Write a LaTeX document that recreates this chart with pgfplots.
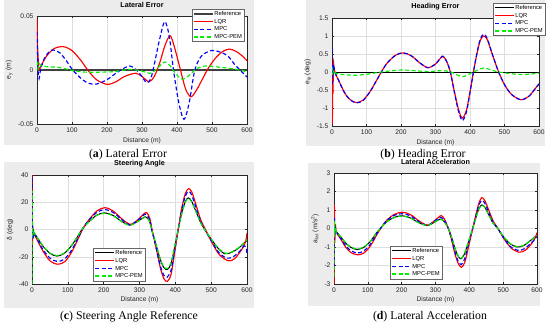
\documentclass[border=0pt]{standalone}
\usepackage{fontspec}
\setmainfont{Liberation Sans}
\newfontfamily\capfont{Liberation Serif}
\usepackage{pgfplots}
\pgfplotsset{compat=1.18}
\definecolor{figgray}{RGB}{236,236,236}
\definecolor{axgray}{RGB}{38,38,38}
\definecolor{gridgray}{RGB}{222,222,222}
\definecolor{mred}{RGB}{255,0,0}
\definecolor{mblue}{RGB}{0,0,255}
\definecolor{mgreen}{RGB}{0,240,0}
\pgfplotsset{
  mstyle/.style={
    scale only axis, anchor=south west,
    axis background/.style={fill=white},
    scaled y ticks=false, scaled x ticks=false,
    xmin=0, xmax=600, xtick={0,100,...,600},
    xticklabels={0,100,200,300,400,500,600},
    grid=major, major grid style={gridgray, line width=0.4pt},
    axis line style={axgray, line width=0.5pt},
    tick style={axgray, line width=0.4pt},
    tick align=inside, major tick length=2pt,
    ticklabel style={font=\fontsize{6.7}{7}\selectfont, text=axgray},
    label style={font=\fontsize{6.7}{7}\selectfont, text=axgray},
    title style={font=\fontsize{7.2}{8}\selectfont\bfseries, at={(0.5,1.045)}, anchor=center},
    xlabel={Distance (m)},
    legend cell align=left,
    legend style={draw=black!60, line width=0.4pt, fill=white,
      font=\fontsize{5.8}{6.5}\selectfont, inner xsep=1.2pt, inner ysep=1pt,
      nodes={inner sep=0.8pt, text height=4.6pt, text depth=1.2pt},
      row sep=0.3pt},
    legend image code/.code={\draw[#1] (0pt,0pt) -- (19pt,0pt);},
  },
  refl/.style={black, line width=1pt, no markers},
  lqr/.style={mred, line width=1.15pt, no markers, smooth},
  mpc/.style={mblue, line width=1.15pt, dash pattern=on 4pt off 2.5pt, no markers, smooth},
  pem/.style={mgreen, line width=1.15pt, dash pattern=on 4pt off 2.5pt, no markers, smooth},
}
\begin{document}
\begin{tikzpicture}
\useasboundingbox (0pt,0pt) rectangle (550pt,327pt);
\fill[white] (0pt,0pt) rectangle (550pt,327pt);
\fill[figgray] (4pt,182pt) rectangle (254pt,327pt);
\fill[figgray] (306pt,181pt) rectangle (545pt,327pt);
\fill[figgray] (4pt,19pt) rectangle (254pt,165pt);
\fill[figgray] (308pt,21pt) rectangle (540pt,164pt);

% (a) Lateral Error
\begin{axis}[mstyle, at={(37pt,203pt)}, width=210pt, height=108pt,
  ymin=-0.05, ymax=0.05, ytick={-0.05,0,0.05}, yticklabels={-0.05,0,0.05},
  title={Lateral Error},
  ylabel={e\textsubscript{y} (m)},
  ylabel style={at={(axis description cs:-0.133,0.5)}, anchor=center},
  xlabel style={at={(axis description cs:0.5,-0.157)}, anchor=center},
  legend style={at={(0.986,1.065)}, anchor=north east}]
\addplot[refl, black!75, line width=1.5pt] coordinates {(0,0) (600,0)};
\addplot[lqr] coordinates {(0,0.047) (2,0.02) (5,0.002) (8,0.001) (15,0.006) (30,0.014) (50,0.020) (75,0.0216) (100,0.018) (125,0.009) (145,0.0) (170,-0.009) (200,-0.0133) (225,-0.011) (250,-0.006) (282,-0.003) (300,-0.006) (320,-0.0108) (335,-0.006) (350,0.006) (365,0.022) (380,0.0318) (392,0.022) (410,0.0) (425,-0.018) (440,-0.0248) (455,-0.019) (475,-0.007) (490,0.002) (510,0.011) (530,0.017) (550,0.0194) (570,0.017) (590,0.012) (600,0.0085)};
\addplot[mpc] coordinates {(0,0.035) (3,0.0) (6,-0.008) (10,0.0) (20,0.010) (35,0.017) (47,0.0185) (65,0.016) (85,0.008) (102,0.0) (130,-0.009) (150,-0.0125) (170,-0.013) (200,-0.009) (230,-0.002) (265,0.0037) (290,-0.002) (313,-0.0117) (325,-0.008) (335,0.005) (350,0.028) (365,0.0448) (378,0.031) (390,0.0) (405,-0.030) (420,-0.0457) (435,-0.030) (451,0.0) (470,0.013) (498,0.018) (520,0.017) (545,0.013) (565,0.005) (580,0.0) (600,-0.0065)};
\addplot[pem] coordinates {(0,0.008) (3,0.001) (6,0.006) (12,0.004) (30,0.003) (60,0.0025) (85,0.0008) (110,-0.001) (140,-0.002) (180,-0.002) (220,-0.0015) (265,0.0006) (300,-0.001) (325,-0.003) (345,0.002) (365,0.0075) (380,0.004) (395,-0.003) (415,-0.0085) (435,-0.005) (455,0.001) (480,0.0037) (510,0.003) (550,0.0015) (580,0.0) (600,-0.0018)};
\legend{Reference,LQR,MPC,MPC-PEM}
\end{axis}

% (b) Heading Error
\begin{axis}[mstyle, at={(332pt,201pt)}, width=207pt, height=108pt,
  ymin=-1.5, ymax=1.5, ytick={-1.5,-1,...,1.5}, yticklabels={-1.5,-1,-0.5,0,0.5,1,1.5},
  title={Heading Error},
  ylabel={e\textsubscript{ψ} (deg)},
  ylabel style={at={(axis description cs:-0.116,0.5)}, anchor=center},
  xlabel style={at={(axis description cs:0.5,-0.157)}, anchor=center},
  legend style={at={(1.029,1.139)}, anchor=north east}]
\addplot[refl] coordinates {(0,0) (600,0)};
\addplot[lqr] coordinates {(0,0.25) (1,-1.45) (2,0.2) (3,-0.6) (4,0.25) (6,0.1) (10,-0.05) (20,-0.25) (35,-0.55) (50,-0.75) (70,-0.85) (90,-0.78) (110,-0.55) (130,-0.22) (143,0.0) (160,0.25) (185,0.47) (207,0.53) (230,0.45) (255,0.25) (278,0.12) (300,0.22) (320,0.43) (332,0.3) (343,0.0) (355,-0.55) (367,-1.05) (378,-1.28) (390,-1.05) (400,-0.55) (410,0.0) (420,0.5) (430,0.88) (440,1.0) (450,0.9) (465,0.48) (483,0.0) (500,-0.35) (520,-0.62) (547,-0.77) (570,-0.68) (590,-0.45) (600,-0.33)};
\addplot[mpc] coordinates {(0,0.65) (1,-0.3) (2,0.2) (3,-0.1) (5,0.15) (8,0.02) (10,-0.05) (20,-0.25) (35,-0.55) (50,-0.75) (70,-0.86) (90,-0.79) (110,-0.55) (130,-0.22) (143,0.0) (160,0.25) (185,0.47) (207,0.53) (230,0.45) (255,0.25) (278,0.12) (300,0.22) (320,0.44) (332,0.3) (343,0.0) (355,-0.58) (367,-1.1) (378,-1.35) (390,-1.1) (400,-0.57) (410,0.0) (420,0.52) (430,0.92) (440,1.05) (450,0.93) (465,0.49) (483,0.0) (500,-0.35) (520,-0.62) (547,-0.77) (570,-0.68) (590,-0.45) (600,-0.33)};
\addplot[pem] coordinates {(0,0.15) (2,-0.05) (5,0.05) (10,-0.03) (30,-0.07) (70,-0.09) (110,-0.05) (143,0.0) (200,0.055) (250,0.03) (280,0.01) (320,0.04) (345,0.0) (378,-0.13) (410,0.0) (440,0.11) (483,0.0) (550,-0.07) (600,-0.03)};
\legend{Reference,LQR,MPC,MPC-PEM}
\end{axis}

% (c) Steering Angle
\begin{axis}[mstyle, at={(32pt,43pt)}, width=215pt, height=109pt,
  ymin=-40, ymax=40, ytick={-40,-20,...,40}, yticklabels={-40,-20,0,20,40},
  title={Steering Angle},
  ylabel={δ (deg)},
  ylabel style={at={(axis description cs:-0.102,0.5)}, anchor=center},
  xlabel style={at={(axis description cs:0.5,-0.147)}, anchor=center},
  legend style={at={(0.284,0.33)}, anchor=north west}]
\addplot[refl, smooth] coordinates {(2,0) (5,-2) (15,-6) (30,-12) (50,-17.5) (70,-19.5) (90,-17.5) (110,-12) (130,-4) (139,0) (155,4.7) (180,10.4) (202,12.2) (225,10.5) (250,6) (273,3.2) (295,6) (317,9.3) (328,6) (334,0) (345,-10) (358,-22) (368,-28) (378,-29.3) (388,-25) (398,-13) (408,0) (418,12) (428,20.5) (436,23.2) (445,21) (458,13) (470,5.5) (482,0) (500,-7) (520,-14) (538,-17.8) (555,-17) (575,-14) (590,-10.5) (600,-8)};
\addplot[lqr] coordinates {(0,40) (1,-10) (2,3) (3,-6) (5,-3) (15,-8) (30,-15.5) (50,-23) (72,-25.5) (92,-23.5) (112,-16) (132,-5) (141,0) (157,6.5) (182,13.8) (204,16) (227,13.5) (252,7.5) (275,3.8) (297,7.5) (318,12.5) (329,8) (335,0) (346,-13) (359,-29) (369,-36.5) (378,-38) (388,-33) (398,-17) (408,0) (418,16) (428,26.5) (437,30) (446,27.5) (459,17) (471,7) (484,0) (502,-9.5) (523,-18.5) (548,-23) (565,-21.5) (582,-16) (592,-11.5) (597,-8) (600,-2.5)};
\addplot[mpc] coordinates {(0,38) (1,-4) (2,2) (3,-6) (6,-3) (15,-7.2) (30,-14.4) (50,-21) (71,-23.5) (91,-21.6) (111,-15) (131,-4.8) (140,0) (156,6) (181,12.6) (203,14.6) (226,12.6) (251,7.2) (274,3.4) (296,7) (317,11.3) (328,7.2) (334,0) (345,-12) (358,-26.5) (368,-33.6) (377,-35) (388,-30) (398,-15.6) (408,0) (418,14.4) (428,24.6) (437,28) (446,25.2) (458,15.6) (470,6.6) (482,0) (501,-8.4) (521,-16.8) (543,-21) (560,-20.2) (578,-16.5) (592,-12) (598,-14) (600,-18.5)};
\addplot[pem] coordinates {(0,-40) (0.6,28) (1.5,-3) (3,-1) (6,-2.5) (15,-6) (30,-11.8) (50,-17.2) (70,-19.1) (90,-17.2) (110,-11.8) (130,-3.9) (139,0) (155,4.6) (180,10.2) (202,11.9) (225,10.2) (250,5.8) (273,3.1) (295,5.8) (317,9.1) (328,5.9) (334,0) (345,-9.8) (358,-21.5) (368,-27.4) (378,-28.6) (388,-24.4) (398,-12.7) (408,0) (418,11.7) (428,20) (436,22.6) (445,20.5) (458,12.7) (470,5.3) (482,0) (500,-6.9) (520,-13.8) (540,-17.4) (556,-16.7) (575,-13.7) (590,-10.3) (600,-7.5)};
\legend{Reference,LQR,MPC,MPC-PEM}
\end{axis}

% (d) Lateral Acceleration
\begin{axis}[mstyle, at={(334pt,43pt)}, width=203pt, height=111pt,
  ymin=-3, ymax=3, ytick={-3,-2,...,3}, yticklabels={-3,-2,-1,0,1,2,3},
  title={Lateral Acceleration},
  ylabel={a\textsubscript{lat} (m/s\textsuperscript{2})},
  ylabel style={at={(axis description cs:-0.094,0.5)}, anchor=center},
  xlabel style={at={(axis description cs:0.5,-0.144)}, anchor=center},
  legend style={at={(0.276,0.342)}, anchor=north west}]
\addplot[refl, smooth] coordinates {(3,-0.05) (8,-0.2) (20,-0.45) (35,-0.8) (50,-1.02) (67,-1.13) (85,-1.05) (105,-0.75) (125,-0.25) (137,0) (155,0.35) (178,0.6) (201,0.69) (225,0.58) (250,0.32) (276,0.16) (296,0.33) (315,0.51) (327,0.35) (338,0) (348,-0.5) (358,-1.1) (367,-1.5) (375,-1.64) (385,-1.4) (397,-0.75) (410,0) (420,0.62) (429,1.1) (437,1.27) (446,1.15) (458,0.72) (470,0.3) (484,0) (500,-0.42) (520,-0.82) (541,-1.0) (560,-0.93) (580,-0.66) (600,-0.36)};
\addplot[lqr] coordinates {(0,-3) (1,1.25) (2.5,-0.6) (4,0.2) (6,-0.1) (10,-0.3) (20,-0.58) (35,-1.02) (50,-1.3) (69,-1.42) (87,-1.34) (107,-0.96) (127,-0.32) (138,0) (156,0.45) (179,0.77) (203,0.88) (227,0.74) (252,0.4) (277,0.18) (297,0.42) (317,0.7) (328,0.45) (338,0) (348,-0.64) (358,-1.41) (368,-1.92) (377,-2.1) (387,-1.8) (398,-0.96) (410,0) (420,0.79) (429,1.41) (437,1.67) (446,1.5) (459,0.92) (471,0.38) (485,0) (502,-0.54) (523,-1.05) (547,-1.28) (565,-1.18) (583,-0.84) (595,-0.5) (600,-0.22)};
\addplot[mpc] coordinates {(0,-2.1) (1,0.6) (2.5,-0.3) (4,0.05) (7,-0.15) (10,-0.28) (20,-0.53) (35,-0.94) (50,-1.2) (68,-1.32) (86,-1.24) (106,-0.89) (126,-0.3) (137,0) (155,0.41) (178,0.71) (202,0.8) (226,0.68) (251,0.37) (276,0.17) (296,0.39) (316,0.6) (327,0.41) (338,0) (348,-0.59) (358,-1.3) (367,-1.77) (376,-1.95) (386,-1.65) (397,-0.88) (410,0) (420,0.73) (429,1.3) (437,1.52) (446,1.36) (458,0.85) (470,0.35) (484,0) (501,-0.5) (521,-0.97) (544,-1.18) (562,-1.1) (582,-0.8) (600,-0.45)};
\addplot[pem] coordinates {(0,-2.6) (0.8,0.35) (2,-0.25) (4,-0.05) (8,-0.2) (20,-0.44) (35,-0.78) (50,-1.0) (67,-1.1) (85,-1.03) (105,-0.74) (125,-0.25) (137,0) (155,0.34) (178,0.59) (201,0.67) (225,0.57) (250,0.31) (276,0.16) (296,0.33) (315,0.5) (327,0.34) (338,0) (348,-0.49) (358,-1.08) (367,-1.47) (375,-1.61) (385,-1.37) (397,-0.73) (410,0) (420,0.61) (429,1.08) (437,1.25) (446,1.13) (458,0.7) (470,0.29) (484,0) (500,-0.41) (520,-0.8) (541,-0.98) (560,-0.91) (580,-0.65) (600,-0.38)};
\legend{Reference,LQR,MPC,MPC-PEM}
\end{axis}

\node[font=\capfont\fontsize{11.8}{13}\selectfont] at (128pt,172pt) {(\textbf{a}) Lateral Error};
\node[font=\capfont\fontsize{11.8}{13}\selectfont] at (423pt,172pt) {(\textbf{b}) Heading Error};
\node[font=\capfont\fontsize{11.8}{13}\selectfont] at (129pt,10pt) {(\textbf{c}) Steering Angle Reference};
\node[font=\capfont\fontsize{11.8}{13}\selectfont] at (430pt,10pt) {(\textbf{d}) Lateral Acceleration};
\end{tikzpicture}
\end{document}
